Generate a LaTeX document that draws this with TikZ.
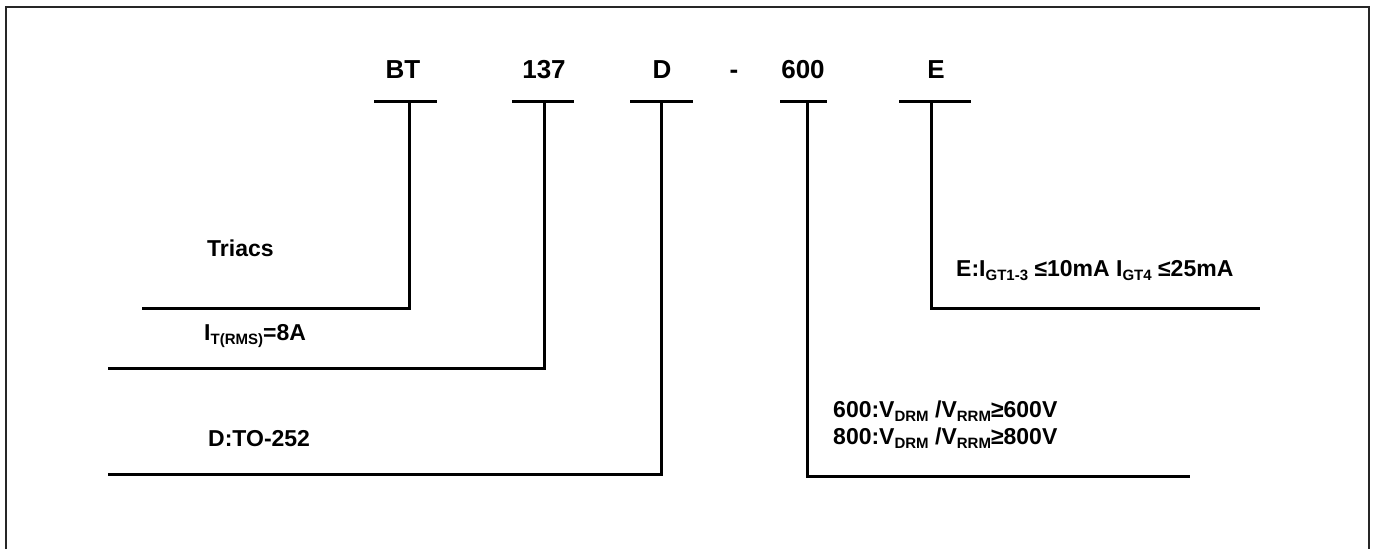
\documentclass[tikz,border=0pt]{standalone}
\usepackage{fontspec}
\setmainfont{Liberation Sans}
\newcommand{\lowtxt}[1]{\raisebox{-0.35ex}{\fontsize{15}{15}\selectfont #1}}

\tikzstyle{code}=[
  font=\bfseries\fontsize{26}{30}\selectfont,
  inner sep=0pt,
  anchor=base,
  ]
\tikzstyle{note}=[
  font=\bfseries\fontsize{23}{28}\selectfont,
  inner sep=0pt,
  anchor=base west,
  ]
\tikzstyle{lead}=[ line width=3pt, black, ]
\tikzstyle{frame}=[ line width=2pt, black!85, ]

\begin{document}
\begin{tikzpicture}[x=1pt, y=-1pt]
    \useasboundingbox (0,0) rectangle (1375,549);
    \draw[frame] (6,549) -- (6,7) -- (1369,7) -- (1369,549);

    \node[code] (cBT) at (403,78) {BT};
    \node[code] (c137) at (544,78) {137};
    \node[code] (cD) at (662,78) {D};
    \node[code] (cdash) at (734,78) {-};
    \node[code] (c600) at (803,78) {600};
    \node[code] (cE) at (936,78) {E};

    % T bars
    \draw[lead] (374,101) -- (437,101);
    \draw[lead] (512,101) -- (574,101);
    \draw[lead] (630,101) -- (693,101);
    \draw[lead] (780,101) -- (827,101);
    \draw[lead] (899,101) -- (971,101);

    \coordinate (sBT) at (409,101);
    \coordinate (s137) at (544,101);
    \coordinate (sD) at (661,101);
    \coordinate (s600) at (807,101);
    \coordinate (sE) at (931,101);
    \coordinate (fBT) at (142,308);
    \coordinate (f137) at (108,368);
    \coordinate (fD) at (108,474);
    \coordinate (f600) at (1190,476);
    \coordinate (fE) at (1260,308);
    \draw[lead] (sBT) |- (fBT);
    \draw[lead] (s137) |- (f137);
    \draw[lead] (sD) |- (fD);
    \draw[lead] (s600) |- (f600);
    \draw[lead] (sE) |- (fE);

    \node[note] (nBT) at (207,256) {Triacs};
    \node[note] (n137) at (204,340) {I\lowtxt{T(RMS)}=8A};
    \node[note] (nD) at (208,446) {D:TO-252};
    \node[note] (n600a) at (833,417) {600:V\lowtxt{DRM} /V\lowtxt{RRM}≥600V};
    \node[note] (n600b) at (833,444) {800:V\lowtxt{DRM} /V\lowtxt{RRM}≥800V};
    \node[note] (nE) at (956,276) {E:I\lowtxt{GT1-3} ≤10mA I\lowtxt{GT4} ≤25mA};
  \end{tikzpicture}
\end{document}
